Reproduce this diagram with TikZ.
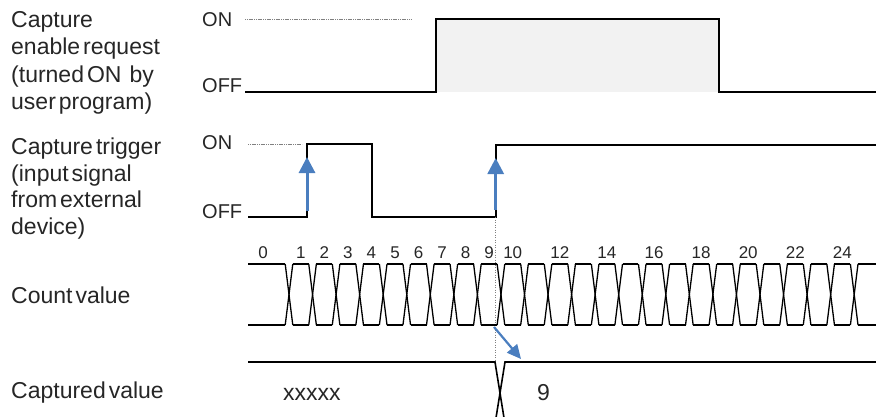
\documentclass[tikz,border=0pt]{standalone}
\usepackage{fontspec}
\setmainfont{Liberation Sans}
\usetikzlibrary{arrows.meta}
\definecolor{txt}{HTML}{262626}
\definecolor{arrowblue}{HTML}{4A7EBF}
\definecolor{pulsefill}{HTML}{F2F2F2}
\newcommand{\mylblfont}{\fontsize{23}{27}\selectfont\spaceskip=3pt plus 0pt minus 0pt\relax}
\begin{document}
\begin{tikzpicture}[x=1pt,y=-1pt,
 lbl/.style={anchor=base west,inner sep=0,text=txt,font=\mylblfont},
 lvl/.style={anchor=base west,inner sep=0,text=txt,font=\fontsize{20}{24}\selectfont},
 num/.style={anchor=base,inner sep=0,text=txt,font=\fontsize{17}{20}\selectfont},
 sig/.style={line width=2pt,line join=miter},
 bus/.style={line width=1.3pt},
 capbus/.style={line width=1.6pt},
 refline/.style={gray,line width=0.6pt,dash pattern=on 1.2pt off 0.6pt},
 guide/.style={gray,line width=0.8pt,dash pattern=on 1pt off 1.5pt},
 trig/.style={arrowblue,line width=3pt,-{Triangle[width=16pt,length=16pt]}},
 latch/.style={arrowblue,line width=2.2pt,-{Triangle[width=13pt,length=14pt]}},
]
\useasboundingbox (0,0) rectangle (876,416);
\clip (0,0) rectangle (876,416);

% ---------- left labels ----------
\node[lbl] (a1) at (11,27.5) {Capture};
\node[lbl] (a2) at (11,54.8) {enable request};
\node[lbl] (a3) at (11,82.1) {(turned ON\hspace{8pt}by};
\node[lbl] (a4) at (11,109.4) {user program)};
\node[lbl] (b1) at (11,154.5) {Capture trigger};
\node[lbl] (b2) at (11,181.2) {(input signal};
\node[lbl] (b3) at (11,207.9) {from external};
\node[lbl] (b4) at (11,234.6) {device)};
\node[lbl] (c1) at (11,303) {Count value};
\node[lbl] (d1) at (11,398) {Captured value};

% ---------- ON / OFF ----------
\node[lvl] (aon) at (202,26.7) {ON};
\node[lvl] (aoff) at (202,92) {OFF};
\node[lvl] (bon) at (202,149) {ON};
\node[lvl] (boff) at (202,218) {OFF};

% ---------- capture enable request ----------
\fill[pulsefill] (435.7,19.3) rectangle (719.3,92);
\draw[refline] (245,19.3) -- (411,19.3);
\draw[sig] (245,92) -- (435.7,92) -- (435.7,19.3) -- (719.3,19.3) -- (719.3,92) -- (880,92);

% ---------- capture trigger ----------
\draw[refline] (248,144) -- (302,144);
\draw[sig] (248,217) -- (307,217) -- (307,144) -- (372,144) -- (372,217) -- (495.7,217) -- (495.7,145) -- (880,145);

% ---------- guide line ----------
\coordinate (g1) at (495.7,217);
\coordinate (g2) at (495.7,362);
\draw[guide] (g1) -- (g2);

% ---------- count value ----------
\draw[bus] (248,264) -- (285.2,264);
\draw[bus] (248,325) -- (285.2,325);
\foreach \k in {1,...,25}{
  \draw[bus] ({289+23.55*(\k-1)-3.8},264) -- ({289+23.55*(\k-1)+3.8},325);
  \draw[bus] ({289+23.55*(\k-1)-3.8},325) -- ({289+23.55*(\k-1)+3.8},264);
}
\foreach \k in {1,...,24}{
  \draw[bus] ({289+23.55*(\k-1)+3.8},264) -- ({289+23.55*\k-3.8},264);
  \draw[bus] ({289+23.55*(\k-1)+3.8},325) -- ({289+23.55*\k-3.8},325);
}
\draw[bus] ({289+23.55*24+3.8},264) -- (880,264);
\draw[bus] ({289+23.55*24+3.8},325) -- (880,325);

\node[num] (n0) at (263,258) {0};
\foreach \k in {1,...,10}{
  \node[num] (n\k) at ({289+23.55*(\k-0.5)},258) {\k};
}
\foreach \k in {12,14,...,24}{
  \node[num] (n\k) at ({289+23.55*(\k-0.5)},258) {\k};
}

% ---------- captured value ----------
\draw[capbus] (248,362) -- (495,362) -- (505,424);
\draw[capbus] (495,424) -- (505,362) -- (880,362);
\node[lbl] (xv) at (283,400) {xxxxx};
\node[lbl] (nine) at (537,400) {9};

% ---------- blue arrows ----------
\coordinate (t1s) at (307,211);
\coordinate (t1e) at (307,157);
\coordinate (t2s) at (495.7,210);
\coordinate (t2e) at (495.7,158);
\draw[trig] (t1s) -- (t1e);
\draw[trig] (t2s) -- (t2e);
\coordinate (l1) at (494,327);
\coordinate (l2) at (521,359);
\draw[latch] (l1) -- (l2);
\end{tikzpicture}
\end{document}
